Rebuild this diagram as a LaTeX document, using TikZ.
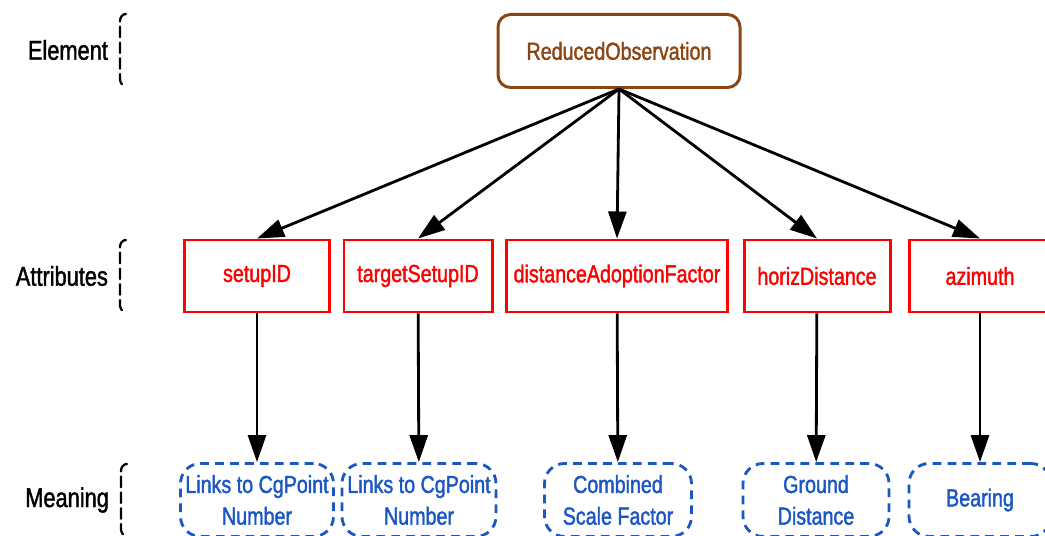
\documentclass[tikz,border=0pt]{standalone}
\usepackage{fontspec}
\setmainfont{Liberation Sans}[FakeStretch=0.8,FakeBold=1.5]
\usepackage{tikz}
\usetikzlibrary{arrows.meta}
\usetikzlibrary{calc}

\definecolor{elemcolor}{HTML}{8B4513}
\definecolor{meancolor}{HTML}{1A56C4}

\begin{document}
\begin{tikzpicture}
        \tikzset{>={Triangle[length=5.4mm,width=3.6mm]}}
        \tikzstyle{every node}=[font=\fontsize{14}{18}\selectfont,inner sep=1pt]
        \tikzstyle{elem}=[draw=elemcolor,text=elemcolor,line width=1.7pt,rounded corners=2.5mm,minimum width=4.84cm,minimum height=1.46cm]
        \tikzstyle{attr}=[draw=red,text=red,line width=1.7pt,minimum height=1.44cm]
        \tikzstyle{mean}=[draw=meancolor,text=meancolor,line width=1.6pt,dash pattern=on 5pt off 3.5pt,rounded corners=4mm,minimum height=1.46cm,align=center]
        \tikzstyle{lvl}=[anchor=east,text=black,font=\fontsize{15.5}{18}\selectfont]
        \tikzstyle{link}=[->,line width=1.6pt]
        \tikzstyle{brace}=[line width=1.3pt,dash pattern=on 6pt off 3pt,line cap=round]

        \useasboundingbox (0,0) rectangle (20.9,-10.72);

        % levels
        \node [lvl] (lElement) at (2.2,-1.0) {Element};
        \node [lvl] (lAttributes) at (2.2,-5.52) {Attributes};
        \node [lvl] (lMeaning) at (2.22,-10.0) {Meaning};
        \foreach \l in {lElement,lAttributes,lMeaning}
            \draw [brace] ($(\l.east)+(0.32,0.72)$) to[out=180,in=90] ($(\l.east)+(0.2,0.58)$)
                -- ($(\l.east)+(0.2,-0.58)$) to[out=-90,in=180] ($(\l.east)+(0.32,-0.72)$);

        % element
        \node [elem] (root) at (12.38,-1.02) {ReducedObservation};

        % attributes
        \node [attr, minimum width=2.9cm] (setupID) at (5.14,-5.52) {setupID};
        \node [attr, minimum width=2.96cm] (targetSetupID) at (8.36,-5.52) {targetSetupID};
        \node [attr, minimum width=4.42cm] (distAdopt) at (12.34,-5.52) {distanceAdoptionFactor};
        \node [attr, minimum width=2.92cm] (horizDist) at (16.34,-5.52) {horizDistance};
        \node [attr, minimum width=2.84cm] (azimuth) at (19.6,-5.52) {azimuth};

        % meaning
        \node [mean, minimum width=3.06cm] (mSetup) at (5.14,-10.0) {Links to CgPoint\\Number};
        \node [mean, minimum width=3.08cm] (mTarget) at (8.38,-10.0) {Links to CgPoint\\Number};
        \node [mean, minimum width=2.94cm] (mScale) at (12.36,-10.0) {Combined\\Scale Factor};
        \node [mean, minimum width=2.92cm] (mGround) at (16.32,-10.0) {Ground\\Distance};
        \node [mean, minimum width=2.84cm] (mBearing) at (19.6,-10.0) {Bearing};

        \draw [link] (root.south) to (setupID.north);
        \draw [link] (root.south) to (targetSetupID.north);
        \draw [link] (root.south) to (distAdopt.north);
        \draw [link] (root.south) to (horizDist.north);
        \draw [link] (root.south) to (azimuth.north);

        \draw [link] (setupID) to (mSetup);
        \draw [link] (targetSetupID) to (mTarget);
        \draw [link] (distAdopt) to (mScale);
        \draw [link] (horizDist) to (mGround);
        \draw [link] (azimuth) to (mBearing);
\end{tikzpicture}
\end{document}
